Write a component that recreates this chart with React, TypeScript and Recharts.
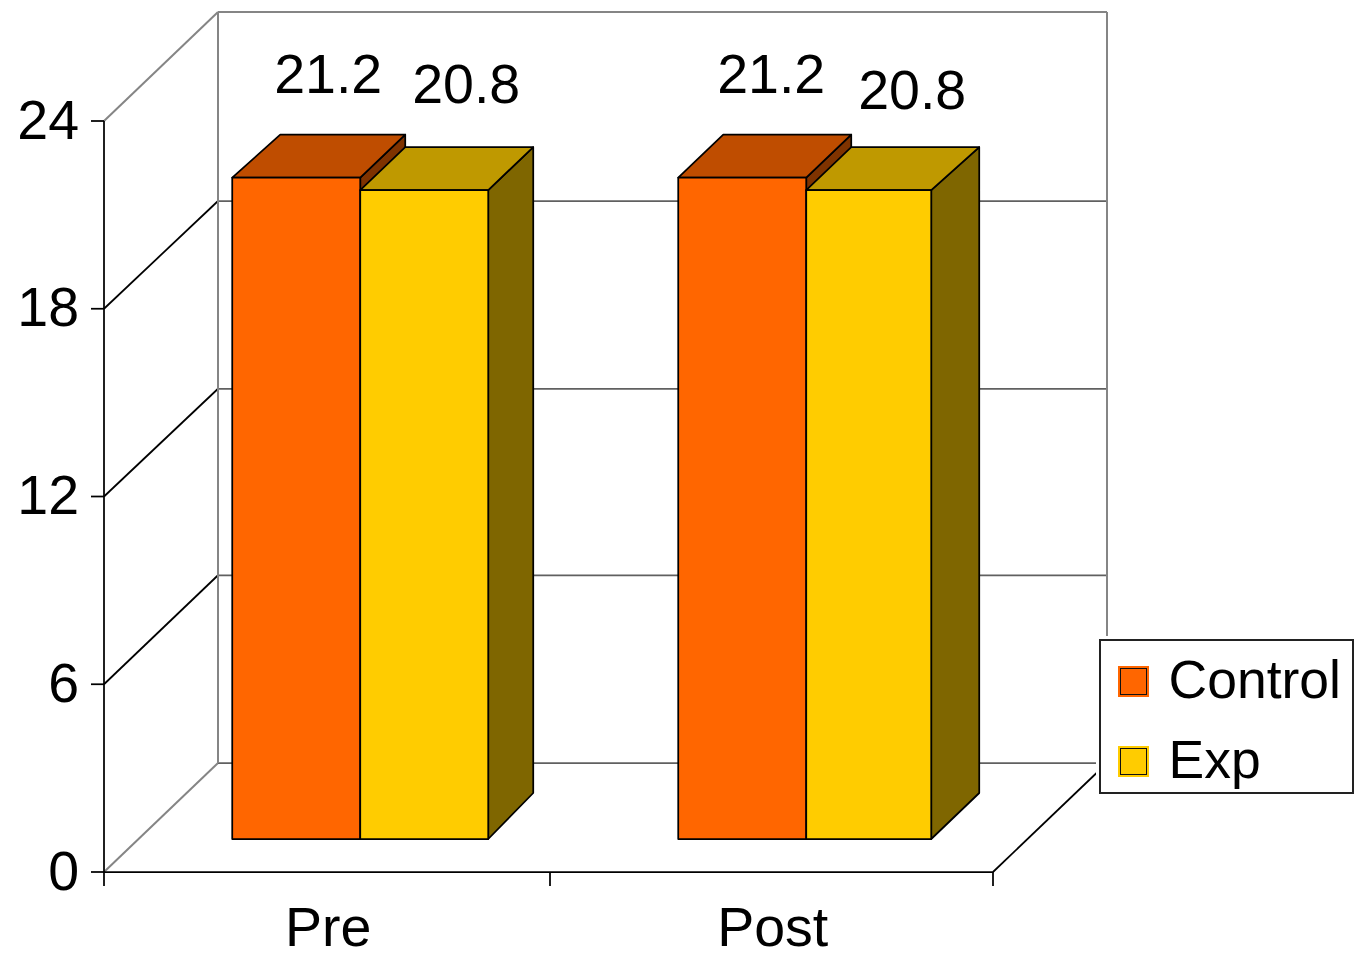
import React from 'react';
import { BarChart, Bar, XAxis, YAxis, CartesianGrid, Legend, LabelList } from 'recharts';

const categories = ['Pre', 'Post'];
const controlValues = [21.2, 21.2];
const expValues = [20.8, 20.8];
const yTicks = [0, 6, 12, 18, 24];

const chartData = categories.map((name, i) => ({ name, control: controlValues[i], exp: expValues[i] }));

const FONT = '"Liberation Sans", Arial, sans-serif';
const FONT_SIZE = 55.5;
const LEGEND_FONT_SIZE = 53.5;

// plot frame of the front plane
const PLOT_LEFT = 104;
const PLOT_TOP = 121;
const PLOT_W = 889;
const PLOT_H = 751;

// how far the back wall sits behind the front plane
const WALL_DX = 114;
const WALL_DY = 109;

// bars stand partway into the floor
const BAR_DX = 34;
const BAR_DY = 33;
const DEPTH_DX = 45;
const DEPTH_DY_TOP = 43;
const DEPTH_DY_BOTTOM = 46;

// the second category starts slightly right of the even split
const MID_NUDGE = 1.5;

const WALL_GREY = '#858585';
const GRID_GREY = '#606060';

const shades = {
  control: { front: '#FF6600', top: '#BF4D00', side: '#7F3300' },
  exp: { front: '#FFCC00', top: '#BF9900', side: '#7F6600' },
};

const Box3D = (props: any) => {
  const { x, y, width, height, index, series } = props;
  const c = shades[series as 'control' | 'exp'];
  const left = x + BAR_DX + (index === 1 ? MID_NUDGE : 0);
  const bottom = y + height - BAR_DY;
  const top = bottom - height * 0.997;
  const right = left + width;
  // front edge of the last box and back corner of the first one are a touch off square
  const frontRight = series === 'exp' && index === 1 ? right - 3 : right;
  const backLeft = left + DEPTH_DX + (series === 'control' && index === 0 ? 3 : 0);
  const backRight = right + DEPTH_DX;
  const edge = { stroke: '#000', strokeWidth: 1.75, strokeLinejoin: 'round' as const };
  return (
    <g>
      <polygon
        points={`${frontRight},${top} ${backRight},${top - DEPTH_DY_TOP} ${backRight},${bottom - DEPTH_DY_BOTTOM} ${frontRight},${bottom}`}
        fill={c.side}
        {...edge}
      />
      <polygon
        points={`${left},${top} ${backLeft},${top - DEPTH_DY_TOP} ${backRight},${top - DEPTH_DY_TOP} ${frontRight},${top}`}
        fill={c.top}
        {...edge}
      />
      <rect x={left} y={top} width={frontRight - left} height={bottom - top} fill={c.front} {...edge} />
    </g>
  );
};

// horizontal grid: each line runs up the side wall and across the back wall
const wallLine = (props: any) => {
  const { x1, x2, y1, index } = props;
  const isTop = Math.abs(y1 - PLOT_TOP) < 1;
  const isFloor = Math.abs(y1 - (PLOT_TOP + PLOT_H)) < 1;
  const backY = y1 - WALL_DY + (!isTop && y1 < 500 ? 1.25 : 0);
  const band = PLOT_W / categories.length;
  const floorTicks = [x1, x1 + band + MID_NUDGE, x2];
  return (
    <g key={`wall-${index}`} fill="none">
      <line
        x1={x1}
        y1={y1}
        x2={x1 + WALL_DX}
        y2={backY}
        stroke={isTop || isFloor ? WALL_GREY : '#000'}
        strokeWidth={isTop || isFloor ? 2 : 1.75}
      />
      <line
        x1={x1 + WALL_DX}
        y1={backY}
        x2={x2 + WALL_DX}
        y2={backY}
        stroke={isTop ? WALL_GREY : GRID_GREY}
        strokeWidth={isTop ? 2 : 1.75}
      />
      {isTop && (
        <>
          <line x1={x1 + WALL_DX} y1={backY} x2={x1 + WALL_DX} y2={backY + PLOT_H} stroke={WALL_GREY} strokeWidth={2} />
          <line x1={x2 + WALL_DX} y1={backY} x2={x2 + WALL_DX} y2={backY + PLOT_H} stroke={WALL_GREY} strokeWidth={2} />
        </>
      )}
      {isFloor && (
        <>
          <line x1={x2} y1={y1} x2={x2 + WALL_DX} y2={backY} stroke="#000" strokeWidth={1.75} />
          {floorTicks.map((tx) => (
            <line key={tx} x1={tx} y1={y1} x2={tx} y2={y1 + 14} stroke="#000" strokeWidth={1.75} />
          ))}
        </>
      )}
    </g>
  );
};

const valueLabel = (series: 'control' | 'exp') => (props: any) => {
  const { x, y, width, value, index } = props;
  const dx = series === 'control' ? (index === 0 ? 66 : 64.5) : index === 0 ? 76 : 77.5;
  const dy = series === 'control' ? -116 : index === 0 ? -118 : -112;
  return (
    <text x={x + width / 2 + dx} y={y + dy} textAnchor="middle" fontFamily={FONT} fontSize={FONT_SIZE} fill="#000">
      {value}
    </text>
  );
};

const LegendBox = ({ payload }: any) => (
  <div
    style={{
      boxSizing: 'border-box',
      width: 255.5,
      height: 155,
      background: '#fff',
      border: '2px solid #222',
      boxShadow: '0 0 0 3px #fff',
      fontFamily: FONT,
      fontSize: LEGEND_FONT_SIZE,
      color: '#000',
      position: 'relative',
    }}
  >
    {(payload || []).map((entry: any, i: number) => (
      <div key={entry.value} style={{ position: 'absolute', left: 17, top: 12.5 + i * 79.5, height: 56, display: 'flex', alignItems: 'center' }}>
        <span
          style={{
            boxSizing: 'border-box',
            display: 'block',
            width: 31,
            height: 31,
            background: entry.color,
            border: `2px solid ${entry.color}`,
            outline: '1.75px solid #111',
            outlineOffset: -3.75,
          }}
        />
        <span style={{ marginLeft: 20, lineHeight: '56px', position: 'relative', top: -1.5 }}>{entry.value}</span>
      </div>
    ))}
  </div>
);

const App = () => (
  <div style={{ position: 'absolute', left: 0, top: 0, width: 1355, height: 953, background: '#fff' }}>
    <BarChart
      width={1355}
      height={953}
      data={chartData}
      margin={{ top: PLOT_TOP, right: 1355 - PLOT_LEFT - PLOT_W, bottom: 0, left: 0 }}
      barCategoryGap="21.2%"
      barGap={0}
    >
      <CartesianGrid horizontal={wallLine} vertical={false} />
      <XAxis
        dataKey="name"
        height={953 - PLOT_TOP - PLOT_H}
        axisLine={{ stroke: '#000', strokeWidth: 1.75 }}
        tickLine={false}
        tickMargin={29}
        tick={{ fontFamily: FONT, fontSize: FONT_SIZE, fill: '#000', dx: 2 }}
      />
      <YAxis
        width={PLOT_LEFT}
        domain={[0, 24]}
        ticks={yTicks}
        interval={0}
        axisLine={{ stroke: '#000', strokeWidth: 1.75 }}
        tickLine={{ stroke: '#000', strokeWidth: 1.75 }}
        tickSize={13}
        tickMargin={12}
        tick={{ fontFamily: FONT, fontSize: FONT_SIZE, fill: '#000', dy: -2 }}
      />
      <Legend
        layout="horizontal"
        align="center"
        verticalAlign="middle"
        wrapperStyle={{ left: 1098.5, top: 639, width: 255.5, height: 155 }}
        content={<LegendBox />}
      />
      <Bar
        dataKey="control"
        name="Control"
        fill="#FF6600"
        isAnimationActive={false}
        shape={(p: any) => <Box3D {...p} series="control" />}
      >
        <LabelList dataKey="control" content={valueLabel('control')} />
      </Bar>
      <Bar
        dataKey="exp"
        name="Exp"
        fill="#FFCC00"
        isAnimationActive={false}
        shape={(p: any) => <Box3D {...p} series="exp" />}
      >
        <LabelList dataKey="exp" content={valueLabel('exp')} />
      </Bar>
    </BarChart>
  </div>
);

export default App;
